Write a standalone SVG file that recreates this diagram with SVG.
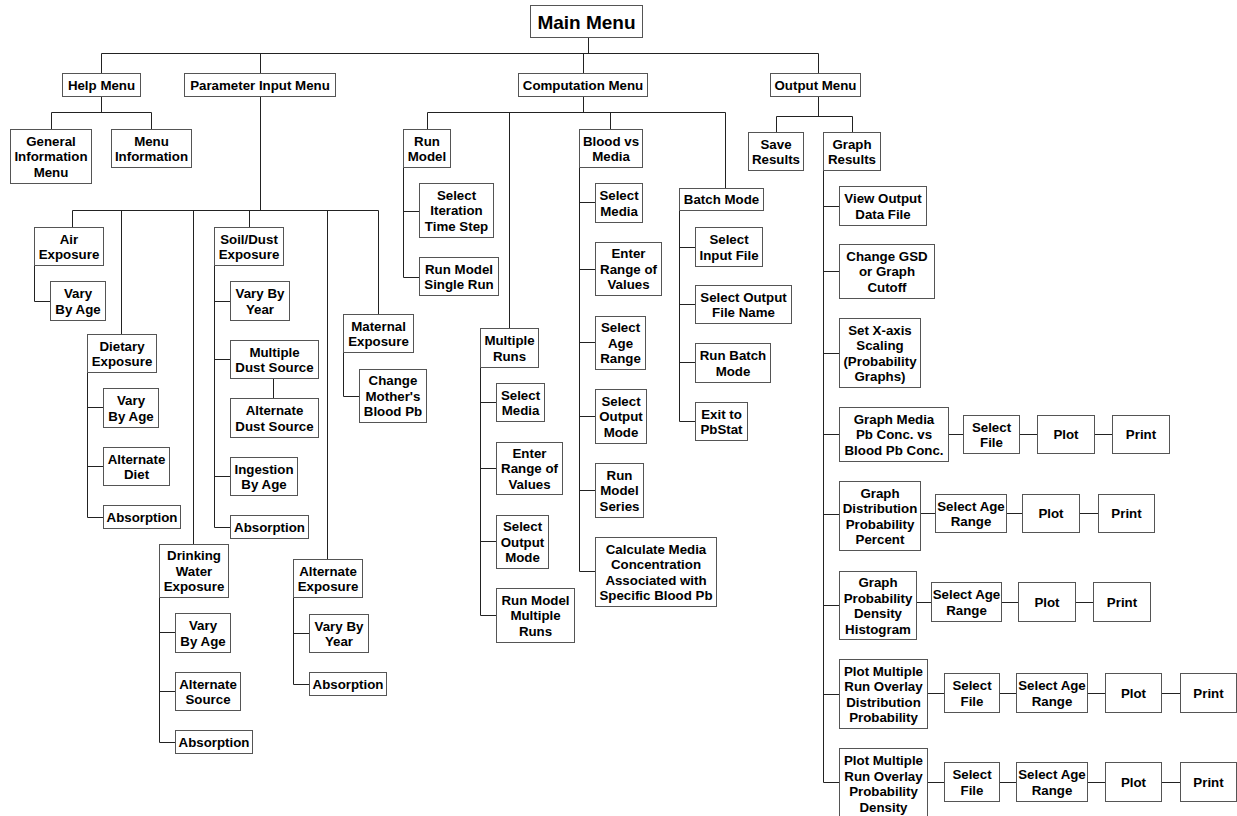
<svg xmlns="http://www.w3.org/2000/svg" width="1237" height="816" viewBox="0 0 1237 816">
<style>
.b{fill:#fff;stroke:#555;stroke-width:1}
.c{fill:none;stroke:#222;stroke-width:1}
text{font-family:"Liberation Sans",Arial,sans-serif;font-weight:bold;font-size:13.3px;text-anchor:middle;fill:#000}
.big{font-size:19px}
</style>
<rect width="1237" height="816" fill="#fff"/>
<g transform="translate(0.5,0.5)">
<g id="connectors" class="c">
<path d="M588,37V53M101,53H818M101,53V73M260,53V73M583,53V73M818,53V73"/>
<path d="M101,96V112M51,112H151M51,112V129M151,112V129"/>
<path d="M260,96V210M72,210H378M72,210V227M121,210V334M193,210V544M249,210V227M327,210V559M378,210V314"/>
<path d="M34,265V301H50"/>
<path d="M87,372V517H103M87,407H103M87,466H103"/>
<path d="M159,597V742H175M159,632H175M159,691H175"/>
<path d="M214,265V527H230M214,301H230M214,359H230M214,476H230M273,378V398"/>
<path d="M293,597V684H309M293,633H309"/>
<path d="M343,352V396H359"/>
<path d="M583,96V112M427,112H725M427,112V129M509,112V328M610,112V129M725,112V188"/>
<path d="M403,167V277H419M403,211H419"/>
<path d="M480,367V615H496M480,402H496M480,468H496M480,541H496"/>
<path d="M579,167V571H595M579,202H595M579,269H595M579,342H595M579,416H595M579,490H595"/>
<path d="M679,210V421H695M679,247H695M679,304H695M679,362H695"/>
<path d="M818,96V116M776,116H852M776,116V132M852,116V132"/>
<path d="M823,170V782H839M823,206H839M823,271H839M823,353H839M823,434H839M823,514H839M823,605H839M823,694H839"/>
<path d="M948,434H963M1019,434H1037M1094,434H1112"/>
<path d="M920,513H935M1006,513H1022M1079,513H1098"/>
<path d="M916,602H931M1001,602H1018M1075,602H1093"/>
<path d="M927,693H944M999,693H1016M1087,693H1105M1161,693H1180"/>
<path d="M927,782H944M999,782H1016M1087,782H1105M1161,782H1180"/>
</g>

<g id="main"><rect class="b" x="530" y="5" width="112" height="32"/><text class="big" x="586" y="28">Main Menu</text></g>
<g id="help"><rect class="b" x="62" y="73" width="78" height="23"/><text x="101" y="89.2">Help Menu</text></g>
<g id="param"><rect class="b" x="184" y="73" width="151" height="23"/><text x="259.5" y="89.2">Parameter Input Menu</text></g>
<g id="comp"><rect class="b" x="518" y="73" width="129" height="23"/><text x="582.5" y="89.2">Computation Menu</text></g>
<g id="output"><rect class="b" x="770" y="73" width="90" height="23"/><text x="815" y="89.2">Output Menu</text></g>

<g id="geninfo"><rect class="b" x="10" y="129" width="81" height="54"/><text x="50.5" y="145.2"><tspan x="50.5">General</tspan><tspan x="50.5" dy="15.5">Information</tspan><tspan x="50.5" dy="15.5">Menu</tspan></text></g>
<g id="menuinfo"><rect class="b" x="111" y="129" width="80" height="38"/><text x="151" y="145"><tspan x="151">Menu</tspan><tspan x="151" dy="15.5">Information</tspan></text></g>

<g id="air"><rect class="b" x="34" y="227" width="69" height="38"/><text x="68.5" y="243"><tspan x="68.5">Air</tspan><tspan x="68.5" dy="15.5">Exposure</tspan></text></g>
<g id="airvary"><rect class="b" x="50" y="281" width="55" height="39"/><text x="77.5" y="297.5"><tspan x="77.5">Vary</tspan><tspan x="77.5" dy="15.5">By Age</tspan></text></g>
<g id="diet"><rect class="b" x="87" y="334" width="69" height="38"/><text x="121.5" y="350"><tspan x="121.5">Dietary</tspan><tspan x="121.5" dy="15.5">Exposure</tspan></text></g>
<g id="dietvary"><rect class="b" x="103" y="388" width="55" height="39"/><text x="130.5" y="404.5"><tspan x="130.5">Vary</tspan><tspan x="130.5" dy="15.5">By Age</tspan></text></g>
<g id="dietalt"><rect class="b" x="103" y="447" width="66" height="38"/><text x="136" y="463"><tspan x="136">Alternate</tspan><tspan x="136" dy="15.5">Diet</tspan></text></g>
<g id="dietabs"><rect class="b" x="103" y="505" width="77" height="23"/><text x="141.5" y="521.2">Absorption</text></g>
<g id="water"><rect class="b" x="159" y="544" width="69" height="53"/><text x="193.5" y="559.7"><tspan x="193.5">Drinking</tspan><tspan x="193.5" dy="15.5">Water</tspan><tspan x="193.5" dy="15.5">Exposure</tspan></text></g>
<g id="watervary"><rect class="b" x="175" y="613" width="55" height="39"/><text x="202.5" y="629.5"><tspan x="202.5">Vary</tspan><tspan x="202.5" dy="15.5">By Age</tspan></text></g>
<g id="wateralt"><rect class="b" x="175" y="672" width="65" height="38"/><text x="207.5" y="688"><tspan x="207.5">Alternate</tspan><tspan x="207.5" dy="15.5">Source</tspan></text></g>
<g id="waterabs"><rect class="b" x="175" y="730" width="77" height="23"/><text x="213.5" y="746.2">Absorption</text></g>
<g id="soil"><rect class="b" x="214" y="227" width="69" height="38"/><text x="248.5" y="243"><tspan x="248.5">Soil/Dust</tspan><tspan x="248.5" dy="15.5">Exposure</tspan></text></g>
<g id="soilvary"><rect class="b" x="230" y="281" width="59" height="39"/><text x="259.5" y="297.5"><tspan x="259.5">Vary By</tspan><tspan x="259.5" dy="15.5">Year</tspan></text></g>
<g id="soilmulti"><rect class="b" x="230" y="340" width="88" height="38"/><text x="274" y="356"><tspan x="274">Multiple</tspan><tspan x="274" dy="15.5">Dust Source</tspan></text></g>
<g id="soilalt"><rect class="b" x="230" y="398" width="88" height="39"/><text x="274" y="414.5"><tspan x="274">Alternate</tspan><tspan x="274" dy="15.5">Dust Source</tspan></text></g>
<g id="soilingest"><rect class="b" x="230" y="457" width="67" height="38"/><text x="263.5" y="473"><tspan x="263.5">Ingestion</tspan><tspan x="263.5" dy="15.5">By Age</tspan></text></g>
<g id="soilabs"><rect class="b" x="230" y="515" width="78" height="23"/><text x="269" y="531.2">Absorption</text></g>
<g id="altexp"><rect class="b" x="293" y="559" width="69" height="38"/><text x="327.5" y="575"><tspan x="327.5">Alternate</tspan><tspan x="327.5" dy="15.5">Exposure</tspan></text></g>
<g id="altvary"><rect class="b" x="309" y="614" width="59" height="38"/><text x="338.5" y="630"><tspan x="338.5">Vary By</tspan><tspan x="338.5" dy="15.5">Year</tspan></text></g>
<g id="altabs"><rect class="b" x="309" y="672" width="77" height="23"/><text x="347.5" y="688.2">Absorption</text></g>
<g id="maternal"><rect class="b" x="343" y="314" width="70" height="38"/><text x="378" y="330"><tspan x="378">Maternal</tspan><tspan x="378" dy="15.5">Exposure</tspan></text></g>
<g id="mother"><rect class="b" x="359" y="369" width="67" height="53"/><text x="392.5" y="384.7"><tspan x="392.5">Change</tspan><tspan x="392.5" dy="15.5">Mother's</tspan><tspan x="392.5" dy="15.5">Blood Pb</tspan></text></g>

<g id="runmodel"><rect class="b" x="403" y="129" width="47" height="38"/><text x="426.5" y="145"><tspan x="426.5">Run</tspan><tspan x="426.5" dy="15.5">Model</tspan></text></g>
<g id="iter"><rect class="b" x="419" y="183" width="74" height="54"/><text x="456" y="199.2"><tspan x="456">Select</tspan><tspan x="456" dy="15.5">Iteration</tspan><tspan x="456" dy="15.5">Time Step</tspan></text></g>
<g id="single"><rect class="b" x="419" y="257" width="79" height="38"/><text x="458.5" y="273"><tspan x="458.5">Run Model</tspan><tspan x="458.5" dy="15.5">Single Run</tspan></text></g>
<g id="multiruns"><rect class="b" x="480" y="328" width="58" height="39"/><text x="509" y="344.5"><tspan x="509">Multiple</tspan><tspan x="509" dy="15.5">Runs</tspan></text></g>
<g id="mr_media"><rect class="b" x="496" y="383" width="48" height="38"/><text x="520" y="399"><tspan x="520">Select</tspan><tspan x="520" dy="15.5">Media</tspan></text></g>
<g id="mr_range"><rect class="b" x="496" y="442" width="66" height="52"/><text x="529" y="457.2"><tspan x="529">Enter</tspan><tspan x="529" dy="15.5">Range of</tspan><tspan x="529" dy="15.5">Values</tspan></text></g>
<g id="mr_mode"><rect class="b" x="496" y="515" width="52" height="53"/><text x="522" y="530.7"><tspan x="522">Select</tspan><tspan x="522" dy="15.5">Output</tspan><tspan x="522" dy="15.5">Mode</tspan></text></g>
<g id="mr_run"><rect class="b" x="496" y="588" width="78" height="54"/><text x="535" y="604.2"><tspan x="535">Run Model</tspan><tspan x="535" dy="15.5">Multiple</tspan><tspan x="535" dy="15.5">Runs</tspan></text></g>
<g id="blood"><rect class="b" x="579" y="129" width="63" height="38"/><text x="610.5" y="145"><tspan x="610.5">Blood vs</tspan><tspan x="610.5" dy="15.5">Media</tspan></text></g>
<g id="bm_media"><rect class="b" x="595" y="183" width="47" height="39"/><text x="618.5" y="199.5"><tspan x="618.5">Select</tspan><tspan x="618.5" dy="15.5">Media</tspan></text></g>
<g id="bm_range"><rect class="b" x="595" y="242" width="66" height="53"/><text x="628" y="257.7"><tspan x="628">Enter</tspan><tspan x="628" dy="15.5">Range of</tspan><tspan x="628" dy="15.5">Values</tspan></text></g>
<g id="bm_age"><rect class="b" x="595" y="316" width="50" height="53"/><text x="620" y="331.7"><tspan x="620">Select</tspan><tspan x="620" dy="15.5">Age</tspan><tspan x="620" dy="15.5">Range</tspan></text></g>
<g id="bm_mode"><rect class="b" x="595" y="389" width="51" height="54"/><text x="620.5" y="405.2"><tspan x="620.5">Select</tspan><tspan x="620.5" dy="15.5">Output</tspan><tspan x="620.5" dy="15.5">Mode</tspan></text></g>
<g id="bm_series"><rect class="b" x="595" y="463" width="48" height="54"/><text x="619" y="479.2"><tspan x="619">Run</tspan><tspan x="619" dy="15.5">Model</tspan><tspan x="619" dy="15.5">Series</tspan></text></g>
<g id="bm_calc"><rect class="b" x="595" y="537" width="121" height="69"/><text x="655.5" y="553"><tspan x="655.5">Calculate Media</tspan><tspan x="655.5" dy="15.5">Concentration</tspan><tspan x="655.5" dy="15.5">Associated with</tspan><tspan x="655.5" dy="15.5">Specific Blood Pb</tspan></text></g>
<g id="batch"><rect class="b" x="679" y="188" width="84" height="22"/><text x="721" y="203.7">Batch Mode</text></g>
<g id="b_input"><rect class="b" x="695" y="227" width="67" height="39"/><text x="728.5" y="243.5"><tspan x="728.5">Select</tspan><tspan x="728.5" dy="15.5">Input File</tspan></text></g>
<g id="b_output"><rect class="b" x="695" y="285" width="96" height="38"/><text x="743" y="301"><tspan x="743">Select Output</tspan><tspan x="743" dy="15.5">File Name</tspan></text></g>
<g id="b_run"><rect class="b" x="695" y="343" width="75" height="39"/><text x="732.5" y="359.5"><tspan x="732.5">Run Batch</tspan><tspan x="732.5" dy="15.5">Mode</tspan></text></g>
<g id="b_exit"><rect class="b" x="695" y="402" width="52" height="38"/><text x="721" y="418"><tspan x="721">Exit to</tspan><tspan x="721" dy="15.5">PbStat</tspan></text></g>

<g id="save"><rect class="b" x="748" y="132" width="55" height="38"/><text x="775.5" y="148"><tspan x="775.5">Save</tspan><tspan x="775.5" dy="15.5">Results</tspan></text></g>
<g id="graph"><rect class="b" x="823" y="132" width="57" height="38"/><text x="851.5" y="148"><tspan x="851.5">Graph</tspan><tspan x="851.5" dy="15.5">Results</tspan></text></g>
<g id="view"><rect class="b" x="839" y="186" width="87" height="39"/><text x="882.5" y="202.5"><tspan x="882.5">View Output</tspan><tspan x="882.5" dy="15.5">Data File</tspan></text></g>
<g id="gsd"><rect class="b" x="839" y="244" width="95" height="54"/><text x="886.5" y="260.2"><tspan x="886.5">Change GSD</tspan><tspan x="886.5" dy="15.5">or Graph</tspan><tspan x="886.5" dy="15.5">Cutoff</tspan></text></g>
<g id="xaxis"><rect class="b" x="839" y="318" width="81" height="69"/><text x="879.5" y="334"><tspan x="879.5">Set X-axis</tspan><tspan x="879.5" dy="15.5">Scaling</tspan><tspan x="879.5" dy="15.5">(Probability</tspan><tspan x="879.5" dy="15.5">Graphs)</tspan></text></g>
<g id="gmedia"><rect class="b" x="839" y="407" width="109" height="54"/><text x="893.5" y="423.2"><tspan x="893.5">Graph Media</tspan><tspan x="893.5" dy="15.5">Pb Conc. vs</tspan><tspan x="893.5" dy="15.5">Blood Pb Conc.</tspan></text></g>
<g id="gm_file"><rect class="b" x="963" y="415" width="56" height="38"/><text x="991" y="431"><tspan x="991">Select</tspan><tspan x="991" dy="15.5">File</tspan></text></g>
<g id="gm_plot"><rect class="b" x="1037" y="415" width="57" height="38"/><text x="1065.5" y="438.7">Plot</text></g>
<g id="gm_print"><rect class="b" x="1112" y="415" width="57" height="38"/><text x="1140.5" y="438.7">Print</text></g>
<g id="gdist"><rect class="b" x="839" y="481" width="81" height="69"/><text x="879.5" y="497"><tspan x="879.5">Graph</tspan><tspan x="879.5" dy="15.5">Distribution</tspan><tspan x="879.5" dy="15.5">Probability</tspan><tspan x="879.5" dy="15.5">Percent</tspan></text></g>
<g id="gd_age"><rect class="b" x="935" y="494" width="71" height="38"/><text x="970.5" y="510"><tspan x="970.5">Select Age</tspan><tspan x="970.5" dy="15.5">Range</tspan></text></g>
<g id="gd_plot"><rect class="b" x="1022" y="494" width="57" height="38"/><text x="1050.5" y="517.7">Plot</text></g>
<g id="gd_print"><rect class="b" x="1098" y="494" width="56" height="38"/><text x="1126" y="517.7">Print</text></g>
<g id="gdens"><rect class="b" x="839" y="571" width="77" height="68"/><text x="877.5" y="586.5"><tspan x="877.5">Graph</tspan><tspan x="877.5" dy="15.5">Probability</tspan><tspan x="877.5" dy="15.5">Density</tspan><tspan x="877.5" dy="15.5">Histogram</tspan></text></g>
<g id="gdn_age"><rect class="b" x="931" y="582" width="70" height="39"/><text x="966" y="598.5"><tspan x="966">Select Age</tspan><tspan x="966" dy="15.5">Range</tspan></text></g>
<g id="gdn_plot"><rect class="b" x="1018" y="582" width="57" height="39"/><text x="1046.5" y="606.2">Plot</text></g>
<g id="gdn_print"><rect class="b" x="1093" y="582" width="57" height="39"/><text x="1121.5" y="606.2">Print</text></g>
<g id="pmd"><rect class="b" x="839" y="659" width="88" height="69"/><text x="883" y="675"><tspan x="883">Plot Multiple</tspan><tspan x="883" dy="15.5">Run Overlay</tspan><tspan x="883" dy="15.5">Distribution</tspan><tspan x="883" dy="15.5">Probability</tspan></text></g>
<g id="pmd_file"><rect class="b" x="944" y="673" width="55" height="39"/><text x="971.5" y="689.5"><tspan x="971.5">Select</tspan><tspan x="971.5" dy="15.5">File</tspan></text></g>
<g id="pmd_age"><rect class="b" x="1016" y="673" width="71" height="39"/><text x="1051.5" y="689.5"><tspan x="1051.5">Select Age</tspan><tspan x="1051.5" dy="15.5">Range</tspan></text></g>
<g id="pmd_plot"><rect class="b" x="1105" y="673" width="56" height="39"/><text x="1133" y="697.2">Plot</text></g>
<g id="pmd_print"><rect class="b" x="1180" y="673" width="56" height="39"/><text x="1208" y="697.2">Print</text></g>
<g id="pmp"><rect class="b" x="839" y="748" width="88" height="70"/><text x="883" y="764.5"><tspan x="883">Plot Multiple</tspan><tspan x="883" dy="15.5">Run Overlay</tspan><tspan x="883" dy="15.5">Probability</tspan><tspan x="883" dy="15.5">Density</tspan></text></g>
<g id="pmp_file"><rect class="b" x="944" y="762" width="55" height="39"/><text x="971.5" y="778.5"><tspan x="971.5">Select</tspan><tspan x="971.5" dy="15.5">File</tspan></text></g>
<g id="pmp_age"><rect class="b" x="1016" y="762" width="71" height="39"/><text x="1051.5" y="778.5"><tspan x="1051.5">Select Age</tspan><tspan x="1051.5" dy="15.5">Range</tspan></text></g>
<g id="pmp_plot"><rect class="b" x="1105" y="762" width="56" height="39"/><text x="1133" y="786.2">Plot</text></g>
<g id="pmp_print"><rect class="b" x="1180" y="762" width="56" height="39"/><text x="1208" y="786.2">Print</text></g>
</g>
</svg>
